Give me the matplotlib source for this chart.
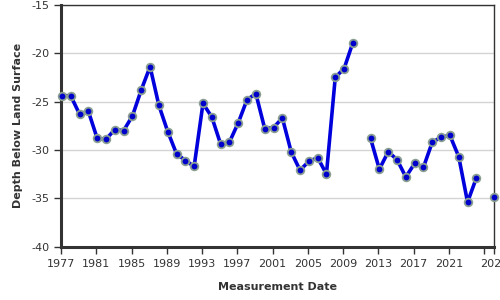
import numpy as np
import matplotlib
matplotlib.use("Agg")
import matplotlib.pyplot as plt

# Messjahre (Messung jeweils Anfang des Jahres), NaN = keine Messung -> Linienlücke
years = [1977, 1978, 1979, 1980, 1981, 1982, 1983, 1984, 1985, 1986,
         1987, 1988, 1989, 1990, 1991, 1992, 1993, 1994, 1995, 1996,
         1997, 1998, 1999, 2000, 2001, 2002, 2003, 2004, 2005, 2006,
         2007, 2008, 2009, 2010, 2011, 2012, 2013, 2014, 2015, 2016,
         2017, 2018, 2019, 2020, 2021, 2022, 2023, 2024, 2025, 2026]
depth = [-24.4, -24.4, -26.3, -26.0, -28.8, -28.9, -27.9, -28.0, -26.5, -23.8,
         -21.4, -25.4, -28.1, -30.4, -31.1, -31.7, -25.2, -26.6, -29.4, -29.2,
         -27.2, -24.8, -24.2, -27.8, -27.7, -26.7, -30.2, -32.1, -31.2, -30.8,
         -32.5, -22.5, -21.6, -18.9, np.nan, -28.8, -32.0, -30.2, -31.0, -32.8,
         -31.4, -31.8, -29.2, -28.7, -28.5, -30.7, -35.4, -32.9, np.nan, -34.9]
tick_years = [1977, 1981, 1985, 1989, 1993, 1997, 2001, 2005, 2009, 2013, 2017, 2021, 2025]
y_ticks = [-15, -20, -25, -30, -35, -40]

MEAS_OFFSET = 0.1
x = np.array(years, dtype=float) + MEAS_OFFSET
y = np.array(depth, dtype=float)

plt.rcParams['font.family'] = ['DejaVu Sans']
fig = plt.figure(figsize=(5, 3), dpi=100)
ax = fig.add_axes([0.122, 0.178, 0.866, 0.806])

ax.plot(x, y, color='#0000dd', linewidth=2.6, zorder=3)
ax.plot(x, y, linestyle='none', marker='o', markersize=5.5,
        markerfacecolor='#0000cc', markeredgecolor='#8a9f92',
        markeredgewidth=1.3, zorder=4, clip_on=False)

x_max = x[-1]
ax.set_xlim(tick_years[0], x_max)
ax.set_ylim(-40, -15)

xt = tick_years + [x_max]
xl = [str(t) for t in tick_years[:-1]] + [''] + ['2026']
ax.set_xticks(xt)
ax.set_xticklabels(xl)
ax.set_yticks(y_ticks)
ax.set_yticklabels([f'-{abs(v)}' for v in y_ticks])

ax.yaxis.grid(True, color='#d4d4d4', linewidth=1)
ax.set_axisbelow(True)

for side in ['left', 'bottom']:
    ax.spines[side].set_linewidth(2.2)
    ax.spines[side].set_color('#333333')
for side in ['top', 'right']:
    ax.spines[side].set_linewidth(1.0)
    ax.spines[side].set_color('#333333')

ax.tick_params(axis='both', labelsize=8, colors='#333333', length=5, width=1)
ax.tick_params(axis='x', pad=4)

ax.set_xlabel('Measurement Date', fontsize=8, fontweight='bold', color='#333333', labelpad=9)
ax.set_ylabel('Depth Below Land Surface', fontsize=8, fontweight='bold', color='#333333', labelpad=6)

fig.savefig('out.png', dpi=100)
